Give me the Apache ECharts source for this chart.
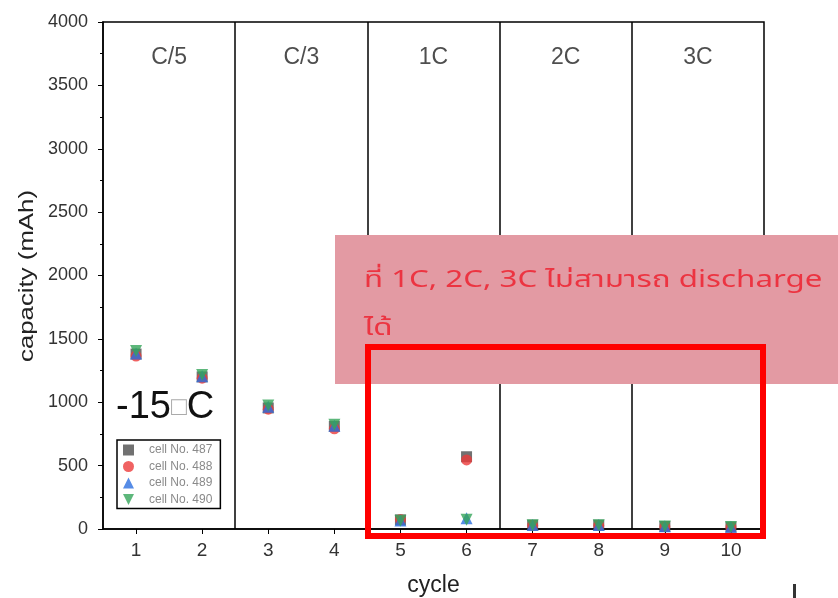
<!DOCTYPE html>
<html>
<head>
<meta charset="utf-8">
<script src="https://cdn.jsdelivr.net/npm/echarts@6/dist/echarts.min.js"></script>
<style>
  html, body { margin: 0; padding: 0; background: #fff; }
  #main { width: 838px; height: 598px; }
</style>
</head>
<body>
<div id="main"></div>
<script>
  var cycles = [1, 2, 3, 4, 5, 6, 7, 8, 9, 10];
  var cell487 = [1380, 1200, 955, 810, 72, 570, 30, 30, 20, 15];
  var cell488 = [1365, 1190, 945, 790, 75, 545, 28, 28, 18, 14];
  var cell489 = [1385, 1205, 965, 815, 68, 85, 32, 32, 22, 17];
  var cell490 = [1405, 1215, 975, 822, 65, 72, 30, 30, 20, 15];
  var sectionNames = ['C/5', 'C/3', '1C', '2C', '3C'];
  var sectionCenters = [1.5, 3.5, 5.5, 7.5, 9.5];
  var sectionBounds = [2.5, 4.5, 6.5, 8.5];

  var dom = document.getElementById('main');
  var myChart = echarts.init(dom, null, { renderer: 'canvas' });

  function pairs(vals) {
    return cycles.map(function (c, i) { return [c, vals[i]]; });
  }

  var font = 'Arial, "Liberation Sans", sans-serif';
  var thaiFont = '"Noto Sans Thai", "Noto Sans", sans-serif';

  var option = {
    animation: false,
    textStyle: { fontFamily: font },
    grid: {
      left: 103, right: 74, top: 22, bottom: 69,
      outerBoundsMode: 'none',
      show: true, borderColor: '#000', borderWidth: 1.5
    },
    legend: {
      data: ['cell No. 487', 'cell No. 488', 'cell No. 489', 'cell No. 490'],
      orient: 'vertical',
      left: 117, top: 440,
      itemWidth: 11, itemHeight: 11, itemGap: 4.5,
      padding: [4, 8, 3, 6],
      borderColor: '#000', borderWidth: 1.5,
      textStyle: { fontSize: 12, color: '#8a8a8a', fontFamily: font, padding: [0, 0, 0, 10] }
    },
    xAxis: {
      type: 'value', min: 0.5, max: 10.5, interval: 1,
      name: 'cycle', nameLocation: 'middle', nameGap: 45,
      nameTextStyle: { fontSize: 23, color: '#222' },
      axisLine: { lineStyle: { color: '#000', width: 1.5 } },
      axisTick: { show: true, length: 5, lineStyle: { color: '#000' }, customValues: cycles },
      axisLabel: { fontSize: 19, color: '#333', margin: 12, customValues: cycles },
      splitLine: { show: false }
    },
    yAxis: {
      type: 'value', min: 0, max: 4000, interval: 500,
      axisLine: { lineStyle: { color: '#000', width: 1.5 } },
      axisTick: { length: 5, lineStyle: { color: '#000' } },
      minorTick: { show: true, splitNumber: 2, length: 3, lineStyle: { color: '#000' } },
      axisLabel: { fontSize: 18, color: '#333', margin: 15, formatter: function (v) { return String(v); } },
      splitLine: { show: false }
    },
    series: [
      {
        name: 'sections', type: 'scatter', symbolSize: 0, silent: true,
        data: sectionCenters.map(function (x, i) { return { name: sectionNames[i], value: [x, 3720] }; }),
        label: { show: true, position: 'inside', formatter: '{b}', fontSize: 23, color: '#222' },
        markLine: {
          silent: true, symbol: 'none',
          label: { show: false },
          lineStyle: { color: '#000', width: 1.5, type: 'solid' },
          data: sectionBounds.map(function (x) { return { xAxis: x }; })
        }
      },
      { name: 'cell No. 487', type: 'scatter', symbol: 'rect', symbolSize: 11, itemStyle: { color: '#4d4d4d' }, data: pairs(cell487) },
      { name: 'cell No. 488', type: 'scatter', symbol: 'circle', symbolSize: 11, itemStyle: { color: '#ec3b3b' }, data: pairs(cell488) },
      { name: 'cell No. 489', type: 'scatter', symbol: 'triangle', symbolSize: 12, itemStyle: { color: '#2c6fe0' }, data: pairs(cell489) },
      { name: 'cell No. 490', type: 'scatter', symbol: 'path://M0,0 L10,0 L5,10 Z', symbolSize: 12, itemStyle: { color: '#35a55a' }, data: pairs(cell490) }
    ],
    graphic: [
      {
        type: 'text', x: 27, y: 276, rotation: Math.PI / 2, scaleX: 1.29, z: 10,
        style: { text: 'capacity (mAh)', font: '20px ' + font, fill: '#222', align: 'center', verticalAlign: 'middle' }
      },
      {
        type: 'text', x: 116, y: 408, z: 10,
        style: {
          text: '-15{b|\u25A1}C', font: '38px ' + font, fill: '#111', verticalAlign: 'middle',
          rich: { b: { fontSize: 26, fill: '#aaa', color: '#aaa', fontFamily: font } }
        }
      },
      {
        type: 'rect', left: 335, top: 235, z: 20,
        shape: { width: 503, height: 149 },
        style: { fill: '#e39aa3' }
      },
      {
        type: 'text', x: 364, y: 258, scaleX: 1.36, z: 21,
        style: {
          text: 'ที่ 1C, 2C, 3C ไม่สามารถ discharge\nได้',
          font: '23px ' + thaiFont, fill: '#ec3441', lineHeight: 48
        }
      },
      {
        type: 'rect', left: 365, top: 344, z: 22,
        shape: { width: 395, height: 189 },
        style: { fill: 'none', stroke: '#ff0000', lineWidth: 6 }
      },
      {
        type: 'rect', left: 793, top: 584, z: 5,
        shape: { width: 3, height: 14 },
        style: { fill: '#333' }
      }
    ]
  };

  myChart.setOption(option);
</script>
</body>
</html>
